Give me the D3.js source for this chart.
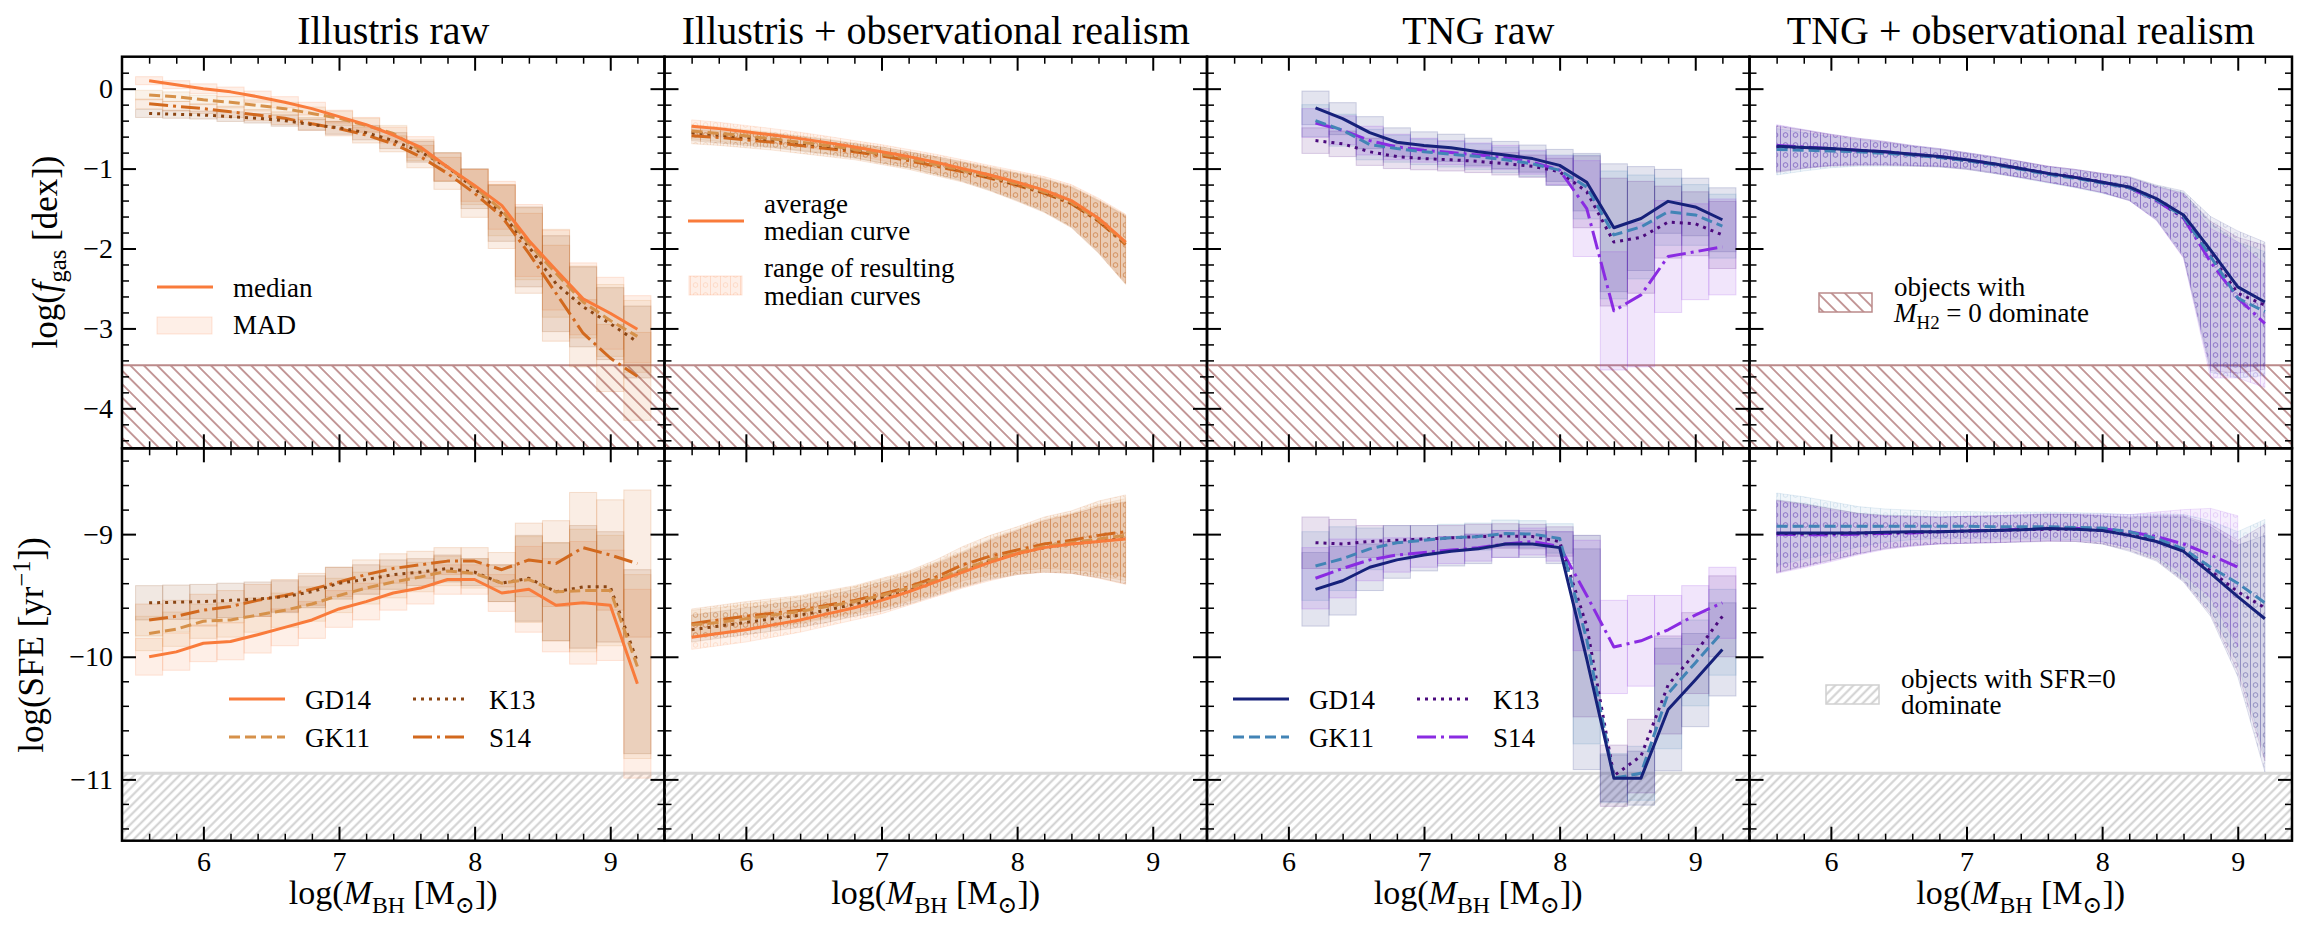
<!DOCTYPE html>
<html><head><meta charset="utf-8">
<script src="https://cdn.jsdelivr.net/npm/d3@7"></script>
<style>
body{margin:0;background:#fff}
svg text{font-family:"Liberation Serif","DejaVu Serif",serif !important;white-space:pre}
</style>
</head><body>
<svg id="chart" width="2308" height="934" font-family="Liberation Serif, DejaVu Serif, serif"></svg>
<script>
// ---------------- DATA ----------------
const models = ["GD14","GK11","K13","S14"];
const illColors = ["#f97b3b","#d6914a","#8b4513","#d2691e"];
const tngColors = ["#16217a","#4284b6","#4b0a7d","#8a2be2"];
const dashes = [null,"11,5","3,5","19,5,3,5"];
const titles = ["Illustris raw","Illustris + observational realism","TNG raw","TNG + observational realism"];

const xMajor = [6,7,8,9];
const fgasMajor = [-4,-3,-2,-1,0];
const sfeMajor = [-11,-10,-9];

const massIllRaw = [5.6,5.8,6.0,6.2,6.4,6.6,6.8,7.0,7.2,7.4,7.6,7.8,8.0,8.2,8.4,8.6,8.8,9.0,9.2];
const massIllObs = [5.6,5.8,6.0,6.2,6.4,6.6,6.8,7.0,7.2,7.4,7.6,7.8,8.0,8.2,8.4,8.6,8.8];
const massTngRaw = [6.2,6.4,6.6,6.8,7.0,7.2,7.4,7.6,7.8,8.0,8.2,8.4,8.6,8.8,9.0,9.2];
const massTngObs = [5.6,5.8,6.0,6.2,6.4,6.6,6.8,7.0,7.2,7.4,7.6,7.8,8.0,8.2,8.4,8.6,8.8,9.0,9.2];

// Illustris raw, log f_gas medians and MAD
const illRawFgasGD14 = [0.10,0.05,0.00,-0.04,-0.10,-0.17,-0.25,-0.35,-0.45,-0.58,-0.73,-0.98,-1.21,-1.46,-1.90,-2.27,-2.63,-2.81,-3.01];
const illRawFgasGK11 = [-0.08,-0.10,-0.14,-0.17,-0.21,-0.25,-0.31,-0.37,-0.46,-0.56,-0.77,-0.98,-1.23,-1.52,-1.94,-2.31,-2.67,-2.90,-3.10];
const illRawFgasK13  = [-0.31,-0.32,-0.33,-0.35,-0.37,-0.40,-0.45,-0.49,-0.55,-0.65,-0.79,-0.98,-1.25,-1.56,-1.98,-2.44,-2.73,-2.94,-3.17];
const illRawFgasS14  = [-0.19,-0.22,-0.25,-0.29,-0.33,-0.37,-0.44,-0.50,-0.58,-0.69,-0.85,-1.06,-1.31,-1.60,-2.06,-2.56,-3.06,-3.37,-3.60];
const illRawFgasMadGD14 = [0.05,0.05,0.06,0.06,0.07,0.07,0.08,0.08,0.09,0.10,0.13,0.17,0.20,0.30,0.45,0.50,0.45,0.45,0.42];
const illRawFgasMadGK11 = [0.06,0.06,0.06,0.07,0.07,0.08,0.08,0.09,0.09,0.10,0.13,0.18,0.22,0.32,0.45,0.55,0.45,0.45,0.45];
const illRawFgasMadK13  = [0.05,0.05,0.05,0.06,0.06,0.07,0.07,0.08,0.09,0.10,0.13,0.18,0.25,0.35,0.50,0.60,0.50,0.45,0.45];
const illRawFgasMadS14  = [0.06,0.06,0.06,0.07,0.07,0.08,0.08,0.09,0.10,0.10,0.14,0.20,0.30,0.40,0.50,0.60,0.42,0.42,0.55];

// Illustris raw, log SFE medians and MAD
const illRawSfeGD14 = [-10.00,-9.96,-9.89,-9.875,-9.82,-9.76,-9.70,-9.61,-9.55,-9.48,-9.44,-9.37,-9.37,-9.48,-9.45,-9.58,-9.56,-9.58,-10.22];
const illRawSfeGK11 = [-9.81,-9.775,-9.71,-9.70,-9.66,-9.62,-9.57,-9.50,-9.44,-9.39,-9.35,-9.30,-9.32,-9.40,-9.37,-9.47,-9.46,-9.46,-10.08];
const illRawSfeK13  = [-9.56,-9.555,-9.55,-9.54,-9.53,-9.51,-9.47,-9.40,-9.37,-9.33,-9.31,-9.28,-9.31,-9.40,-9.36,-9.47,-9.43,-9.43,-10.04];
const illRawSfeS14  = [-9.70,-9.67,-9.62,-9.59,-9.54,-9.50,-9.45,-9.39,-9.33,-9.28,-9.25,-9.22,-9.22,-9.29,-9.21,-9.24,-9.11,-9.17,-9.24];
const illRawSfeMadGD14 = [0.15,0.15,0.15,0.15,0.15,0.15,0.15,0.15,0.15,0.14,0.13,0.12,0.12,0.15,0.35,0.38,0.50,0.45,0.77];
const illRawSfeMadGK11 = [0.14,0.14,0.14,0.14,0.14,0.14,0.14,0.14,0.13,0.13,0.12,0.12,0.12,0.15,0.35,0.40,0.50,0.45,0.75];
const illRawSfeMadK13  = [0.14,0.14,0.14,0.14,0.14,0.13,0.13,0.13,0.12,0.12,0.11,0.11,0.11,0.15,0.35,0.40,0.50,0.45,0.75];
const illRawSfeMadS14  = [0.13,0.13,0.13,0.13,0.13,0.13,0.13,0.12,0.12,0.12,0.11,0.11,0.11,0.14,0.30,0.35,0.45,0.45,0.60];

// Illustris + observational realism
const illObsFgasGD14 = [-0.47,-0.50,-0.54,-0.58,-0.625,-0.675,-0.73,-0.79,-0.85,-0.92,-1.00,-1.08,-1.17,-1.27,-1.40,-1.62,-1.92];
const illObsFgasGK11 = [-0.53,-0.56,-0.59,-0.63,-0.67,-0.71,-0.76,-0.82,-0.88,-0.95,-1.02,-1.10,-1.19,-1.29,-1.42,-1.64,-1.93];
const illObsFgasK13  = [-0.55,-0.58,-0.61,-0.64,-0.68,-0.72,-0.77,-0.82,-0.88,-0.95,-1.03,-1.11,-1.20,-1.30,-1.43,-1.65,-1.94];
const illObsFgasS14  = [-0.59,-0.61,-0.64,-0.67,-0.71,-0.75,-0.79,-0.84,-0.90,-0.97,-1.04,-1.12,-1.21,-1.31,-1.44,-1.66,-1.95];
const illObsFgasUp   = [0.08,0.08,0.08,0.08,0.08,0.08,0.08,0.09,0.09,0.10,0.11,0.12,0.14,0.17,0.20,0.25,0.35];
const illObsFgasDown = [0.10,0.10,0.10,0.10,0.10,0.10,0.10,0.11,0.11,0.12,0.13,0.16,0.20,0.24,0.30,0.40,0.50];
const illObsSfeGD14 = [-9.84,-9.81,-9.78,-9.74,-9.70,-9.65,-9.60,-9.54,-9.47,-9.39,-9.31,-9.23,-9.16,-9.11,-9.08,-9.06,-9.04];
const illObsSfeGK11 = [-9.74,-9.72,-9.69,-9.66,-9.63,-9.59,-9.55,-9.50,-9.44,-9.37,-9.29,-9.21,-9.15,-9.10,-9.07,-9.04,-9.01];
const illObsSfeK13  = [-9.78,-9.75,-9.72,-9.69,-9.66,-9.62,-9.57,-9.52,-9.46,-9.38,-9.30,-9.22,-9.16,-9.11,-9.08,-9.055,-9.035];
const illObsSfeS14  = [-9.73,-9.70,-9.67,-9.645,-9.62,-9.58,-9.54,-9.49,-9.43,-9.35,-9.25,-9.18,-9.13,-9.08,-9.05,-9.01,-8.98];
const illObsSfeUp   = [0.12,0.12,0.12,0.12,0.12,0.12,0.12,0.13,0.13,0.14,0.15,0.17,0.19,0.22,0.24,0.28,0.30];
const illObsSfeDown = [0.10,0.10,0.10,0.10,0.10,0.10,0.10,0.11,0.11,0.12,0.13,0.15,0.17,0.20,0.24,0.30,0.37];

// TNG raw
const tngRawFgasGD14 = [-0.24,-0.375,-0.55,-0.67,-0.71,-0.74,-0.79,-0.83,-0.875,-0.96,-1.17,-1.74,-1.625,-1.41,-1.48,-1.64];
const tngRawFgasGK11 = [-0.40,-0.52,-0.70,-0.75,-0.79,-0.82,-0.85,-0.89,-0.94,-1.02,-1.23,-1.83,-1.73,-1.54,-1.58,-1.72];
const tngRawFgasK13  = [-0.65,-0.69,-0.79,-0.85,-0.875,-0.89,-0.91,-0.94,-0.97,-1.04,-1.29,-1.92,-1.86,-1.67,-1.69,-1.83];
const tngRawFgasS14  = [-0.43,-0.52,-0.65,-0.73,-0.77,-0.80,-0.83,-0.86,-0.92,-1.02,-1.50,-2.78,-2.58,-2.10,-2.04,-1.98];
const tngRawFgasMadGD14 = [0.21,0.20,0.20,0.18,0.17,0.17,0.17,0.17,0.17,0.20,0.36,0.80,0.65,0.40,0.36,0.40];
const tngRawFgasMadGK11 = [0.20,0.20,0.19,0.17,0.16,0.16,0.16,0.16,0.16,0.19,0.40,0.80,0.65,0.42,0.38,0.40];
const tngRawFgasMadK13  = [0.16,0.16,0.17,0.15,0.14,0.14,0.14,0.14,0.14,0.17,0.45,0.80,0.70,0.45,0.40,0.42];
const tngRawFgasMadS14  = [0.18,0.18,0.18,0.16,0.15,0.15,0.15,0.15,0.15,0.18,0.60,0.74,0.90,0.70,0.60,0.60];
const tngRawSfeGD14 = [-9.45,-9.38,-9.27,-9.21,-9.17,-9.14,-9.12,-9.08,-9.08,-9.11,-10.02,-10.99,-10.99,-10.43,-10.19,-9.94];
const tngRawSfeGK11 = [-9.26,-9.20,-9.12,-9.07,-9.05,-9.03,-9.02,-8.995,-9.00,-9.035,-9.86,-10.99,-10.95,-10.30,-10.05,-9.80];
const tngRawSfeK13  = [-9.07,-9.08,-9.06,-9.05,-9.04,-9.03,-9.02,-9.015,-9.02,-9.06,-9.75,-10.97,-10.81,-10.23,-9.97,-9.67];
const tngRawSfeS14  = [-9.36,-9.28,-9.21,-9.17,-9.15,-9.13,-9.11,-9.08,-9.06,-9.10,-9.50,-9.92,-9.87,-9.78,-9.66,-9.56];
const tngRawSfeMadGD14 = [0.30,0.28,0.19,0.15,0.13,0.12,0.12,0.11,0.11,0.13,0.90,0.19,0.22,0.50,0.38,0.38];
const tngRawSfeMadGK11 = [0.28,0.26,0.17,0.14,0.12,0.11,0.11,0.11,0.11,0.12,0.85,0.20,0.22,0.45,0.35,0.35];
const tngRawSfeMadK13  = [0.21,0.20,0.13,0.12,0.11,0.10,0.10,0.10,0.10,0.12,0.74,0.25,0.30,0.40,0.33,0.33];
const tngRawSfeMadS14  = [0.25,0.24,0.17,0.14,0.12,0.11,0.11,0.11,0.11,0.12,0.45,0.38,0.37,0.28,0.24,0.29];

// TNG + observational realism
const tngObsFgasGD14 = [-0.72,-0.735,-0.75,-0.77,-0.79,-0.82,-0.85,-0.89,-0.94,-1.00,-1.06,-1.11,-1.17,-1.23,-1.375,-1.58,-2.02,-2.48,-2.67];
const tngObsFgasGK11 = [-0.76,-0.77,-0.78,-0.79,-0.81,-0.83,-0.86,-0.90,-0.95,-1.01,-1.07,-1.12,-1.18,-1.24,-1.39,-1.60,-2.10,-2.62,-2.79];
const tngObsFgasK13  = [-0.73,-0.74,-0.76,-0.78,-0.80,-0.83,-0.86,-0.90,-0.95,-1.00,-1.06,-1.11,-1.17,-1.24,-1.39,-1.61,-2.08,-2.56,-2.71];
const tngObsFgasS14  = [-0.71,-0.73,-0.75,-0.77,-0.79,-0.82,-0.85,-0.89,-0.94,-1.00,-1.06,-1.11,-1.17,-1.24,-1.40,-1.62,-2.17,-2.62,-2.94];
const tngObsFgasUp   = [0.26,0.22,0.18,0.15,0.13,0.11,0.10,0.09,0.09,0.09,0.09,0.10,0.11,0.13,0.17,0.30,0.42,0.70,0.75];
const tngObsFgasDown = [0.32,0.26,0.21,0.18,0.16,0.14,0.12,0.11,0.11,0.11,0.11,0.12,0.13,0.16,0.25,0.50,1.45,1.00,0.80];
const tngObsSfeGD14 = [-8.99,-8.99,-8.99,-8.99,-8.985,-8.98,-8.98,-8.975,-8.97,-8.965,-8.955,-8.96,-8.97,-9.01,-9.06,-9.14,-9.32,-9.51,-9.69];
const tngObsSfeGK11 = [-8.935,-8.935,-8.935,-8.935,-8.935,-8.935,-8.935,-8.935,-8.94,-8.94,-8.94,-8.945,-8.95,-8.98,-9.035,-9.12,-9.27,-9.40,-9.56];
const tngObsSfeK13  = [-8.995,-8.995,-8.995,-8.99,-8.99,-8.985,-8.98,-8.975,-8.97,-8.965,-8.96,-8.96,-8.97,-9.00,-9.05,-9.13,-9.30,-9.47,-9.60];
const tngObsSfeS14  = [-9.00,-9.005,-9.005,-9.00,-8.995,-8.99,-8.98,-8.975,-8.97,-8.96,-8.955,-8.955,-8.955,-8.98,-9.02,-9.08,-9.17,-9.27,null];
const tngObsSfeUp   = [0.27,0.24,0.20,0.16,0.14,0.13,0.12,0.12,0.12,0.12,0.12,0.12,0.12,0.14,0.20,0.28,0.38,0.42,0.68];
const tngObsSfeDown = [0.32,0.27,0.22,0.17,0.13,0.11,0.10,0.10,0.10,0.10,0.10,0.10,0.11,0.13,0.16,0.25,0.35,0.65,1.25];

// hatched "dominated by zeros" regions
const fgasZeroLimit = -3.46;
const sfeZeroLimit = -10.95;

// ---------------- LAYOUT ----------------
const FONT = "Liberation Serif, DejaVu Serif, serif";
const panelLeft = 122, panelW = 542.5;
const xDomain = [5.4, 9.4];
const rowsGeom = [
  {y0:56.7, y1:448.3, domain:[-4.5,0.4], major:fgasMajor},
  {y0:448.3, y1:840.7, domain:[-11.5,-8.3], major:sfeMajor}
];
const r1 = v => Math.round(v*10)/10;
const xMinor = d3.range(5.6, 9.3, 0.2).map(r1).filter(v => !xMajor.includes(v));
rowsGeom[0].minor = d3.range(-4.4, 0.3, 0.2).map(r1).filter(v => !fgasMajor.includes(v));
rowsGeom[1].minor = d3.range(-11.4, -8.35, 0.2).map(r1).filter(v => !sfeMajor.includes(v));

const panels = [
  {xs:massIllRaw, colors:illColors, kind:"box", bandOp:0.1,
   rows:[{med:[illRawFgasGD14,illRawFgasGK11,illRawFgasK13,illRawFgasS14], err:[illRawFgasMadGD14,illRawFgasMadGK11,illRawFgasMadK13,illRawFgasMadS14]},
         {med:[illRawSfeGD14,illRawSfeGK11,illRawSfeK13,illRawSfeS14], err:[illRawSfeMadGD14,illRawSfeMadGK11,illRawSfeMadK13,illRawSfeMadS14]}]},
  {xs:massIllObs, colors:illColors, kind:"band", bandOp:0.1,
   rows:[{med:[illObsFgasGD14,illObsFgasGK11,illObsFgasK13,illObsFgasS14], up:illObsFgasUp, down:illObsFgasDown},
         {med:[illObsSfeGD14,illObsSfeGK11,illObsSfeK13,illObsSfeS14], up:illObsSfeUp, down:illObsSfeDown}]},
  {xs:massTngRaw, colors:tngColors, kind:"box", bandOp:0.1,
   rows:[{med:[tngRawFgasGD14,tngRawFgasGK11,tngRawFgasK13,tngRawFgasS14], err:[tngRawFgasMadGD14,tngRawFgasMadGK11,tngRawFgasMadK13,tngRawFgasMadS14]},
         {med:[tngRawSfeGD14,tngRawSfeGK11,tngRawSfeK13,tngRawSfeS14], err:[tngRawSfeMadGD14,tngRawSfeMadGK11,tngRawSfeMadK13,tngRawSfeMadS14]}]},
  {xs:massTngObs, colors:tngColors, kind:"band", bandOp:0.075,
   rows:[{med:[tngObsFgasGD14,tngObsFgasGK11,tngObsFgasK13,tngObsFgasS14], up:tngObsFgasUp, down:tngObsFgasDown},
         {med:[tngObsSfeGD14,tngObsSfeGK11,tngObsSfeK13,tngObsSfeS14], up:tngObsSfeUp, down:tngObsSfeDown}]}
];

// ---------------- DRAW ----------------
const svg = d3.select("#chart");
const defs = svg.append("defs");

function hatch(id, color, angle, spacing, width){
  const p = defs.append("pattern").attr("id",id).attr("patternUnits","userSpaceOnUse")
    .attr("width",spacing).attr("height",spacing).attr("patternTransform",`rotate(${angle})`);
  p.append("line").attr("x1",spacing/2).attr("x2",spacing/2).attr("y1",-1).attr("y2",spacing+1)
    .attr("stroke",color).attr("stroke-width",width);
}
hatch("hatchH2","#bb8a8a",-45,9.5,1.7);
hatch("hatchSFR","#d0d0d0",45,6.4,2);

function rangePattern(id,color,op){
  const p = defs.append("pattern").attr("id",id).attr("patternUnits","userSpaceOnUse").attr("width",10).attr("height",10);
  p.append("line").attr("x1",0.5).attr("x2",0.5).attr("y1",0).attr("y2",10)
    .attr("stroke",color).attr("stroke-width",1).attr("stroke-opacity",op);
  p.append("circle").attr("cx",5.5).attr("cy",5).attr("r",2.3).attr("fill","none")
    .attr("stroke",color).attr("stroke-width",0.9).attr("stroke-opacity",op);
}
illColors.forEach((c,i)=>rangePattern("rp-ill-"+i,c,0.2));
tngColors.forEach((c,i)=>rangePattern("rp-tng-"+i,c,0.18));

function txt(parent, x, y, s, size, anchor){
  return parent.append("text").attr("x",x).attr("y",y).attr("font-size",size)
    .attr("font-family",FONT).attr("text-anchor",anchor||"start").attr("fill","#000").text(s);
}
function rich(parent, segs, size, attrs){
  const t = parent.append("text").attr("font-size",size).attr("font-family",FONT).attr("fill","#000");
  Object.entries(attrs||{}).forEach(([k,v])=>t.attr(k,v));
  let shift = 0;
  segs.forEach(s=>{
    const target = s.sub ? size*0.25 : (s.sup ? -size*0.38 : 0);
    const ts = t.append("tspan").text(s.t);
    if (target !== shift) ts.attr("dy", target - shift);
    shift = target;
    if (s.sub || s.sup) ts.attr("font-size", size*0.7);
    if (s.it) ts.attr("font-style","italic");
  });
  return t;
}
const fmt = d => d < 0 ? "\u2212" + Math.abs(d) : String(d);

const hatchCfg = [
  {lo:-4.5, hi:fgasZeroLimit, pattern:"hatchH2", edge:"#bb8a8a", edgeW:2},
  {lo:-11.5, hi:sfeZeroLimit, pattern:"hatchSFR", edge:"#d8d8d8", edgeW:3}
];

panels.forEach((P, pi) => {
  const left = panelLeft + pi*panelW;
  const x = d3.scaleLinear().domain(xDomain).range([left, left+panelW]);
  const pat = P.colors === illColors ? "rp-ill-" : "rp-tng-";
  rowsGeom.forEach((R, ri) => {
    const y = d3.scaleLinear().domain(R.domain).range([R.y1, R.y0]);
    const clipId = `clip-${pi}-${ri}`;
    defs.append("clipPath").attr("id",clipId).append("rect")
      .attr("x",left).attr("y",R.y0).attr("width",panelW).attr("height",R.y1-R.y0);
    const g = svg.append("g");
    const data = g.append("g").attr("clip-path",`url(#${clipId})`);
    const hz = hatchCfg[ri];
    data.append("rect").attr("x",left).attr("width",panelW)
      .attr("y",y(hz.hi)).attr("height",y(hz.lo)-y(hz.hi)).attr("fill",`url(#${hz.pattern})`);
    data.append("line").attr("x1",left).attr("x2",left+panelW).attr("y1",y(hz.hi)).attr("y2",y(hz.hi))
      .attr("stroke",hz.edge).attr("stroke-width",hz.edgeW);

    const S = P.rows[ri];
    const pts = k => P.xs.map((xv,i)=>({x:xv, m:S.med[k][i], i})).filter(d=>d.m!==null && d.m!==undefined);

    if (P.kind === "box") {
      models.forEach((mname,k)=>{
        data.append("g").selectAll("rect").data(pts(k)).join("rect")
          .attr("x", d=>x(d.x-0.1)).attr("width", d=>x(d.x+0.1)-x(d.x-0.1))
          .attr("y", d=>y(d.m+S.err[k][d.i])).attr("height", d=>y(d.m-S.err[k][d.i])-y(d.m+S.err[k][d.i]))
          .attr("fill",P.colors[k]).attr("fill-opacity",0.12)
          .attr("stroke",P.colors[k]).attr("stroke-opacity",0.18).attr("stroke-width",1);
      });
    } else {
      models.forEach((mname,k)=>{
        const area = d3.area().x(d=>x(d.x)).y0(d=>y(d.m-S.down[d.i])).y1(d=>y(d.m+S.up[d.i]));
        const dd = pts(k);
        data.append("path").attr("d",area(dd)).attr("fill",P.colors[k]).attr("fill-opacity",P.bandOp)
          .attr("stroke",P.colors[k]).attr("stroke-opacity",0.12).attr("stroke-width",1);
        data.append("path").attr("d",area(dd)).attr("fill",`url(#${pat}${k})`);
      });
    }
    const line = d3.line().x(d=>x(d.x)).y(d=>y(d.m));
    [3,2,1,0].forEach(k=>{
      data.append("path").attr("d",line(pts(k))).attr("fill","none")
        .attr("stroke",P.colors[k]).attr("stroke-width",3)
        .attr("stroke-dasharray",dashes[k]).attr("stroke-linejoin","round");
    });

    // axes (inward ticks on all sides)
    const style = sel => {
      sel.select(".domain").remove();
      sel.attr("font-family",FONT).attr("font-size",28);
      sel.selectAll("line").attr("stroke","#000");
      sel.selectAll("text").attr("font-size",28).attr("font-family",FONT).attr("fill","#000");
    };
    const showX = ri === 1, showY = pi === 0;
    g.append("g").attr("transform",`translate(0,${R.y1})`)
      .call(d3.axisBottom(x).tickValues(xMajor).tickSize(-14).tickPadding(10).tickFormat(showX ? d3.format("d") : ()=>""))
      .call(style).selectAll("line").attr("stroke-width",2);
    g.append("g").attr("transform",`translate(0,${R.y1})`)
      .call(d3.axisBottom(x).tickValues(xMinor).tickSize(-7).tickFormat(()=>""))
      .call(style).selectAll("line").attr("stroke-width",1.5);
    g.append("g").attr("transform",`translate(0,${R.y0})`)
      .call(d3.axisTop(x).tickValues(xMajor).tickSize(-14).tickFormat(()=>""))
      .call(style).selectAll("line").attr("stroke-width",2);
    g.append("g").attr("transform",`translate(0,${R.y0})`)
      .call(d3.axisTop(x).tickValues(xMinor).tickSize(-7).tickFormat(()=>""))
      .call(style).selectAll("line").attr("stroke-width",1.5);
    g.append("g").attr("transform",`translate(${left},0)`)
      .call(d3.axisLeft(y).tickValues(R.major).tickSize(-14).tickPadding(9).tickFormat(showY ? fmt : ()=>""))
      .call(style).selectAll("line").attr("stroke-width",2);
    g.append("g").attr("transform",`translate(${left},0)`)
      .call(d3.axisLeft(y).tickValues(R.minor).tickSize(-7).tickFormat(()=>""))
      .call(style).selectAll("line").attr("stroke-width",1.5);
    g.append("g").attr("transform",`translate(${left+panelW},0)`)
      .call(d3.axisRight(y).tickValues(R.major).tickSize(-14).tickFormat(()=>""))
      .call(style).selectAll("line").attr("stroke-width",2);
    g.append("g").attr("transform",`translate(${left+panelW},0)`)
      .call(d3.axisRight(y).tickValues(R.minor).tickSize(-7).tickFormat(()=>""))
      .call(style).selectAll("line").attr("stroke-width",1.5);
    g.append("rect").attr("x",left).attr("y",R.y0).attr("width",panelW).attr("height",R.y1-R.y0)
      .attr("fill","none").attr("stroke","#000").attr("stroke-width",2.5);

    if (ri === 1) {
      rich(svg, [{t:"log("},{t:"M",it:true},{t:"BH",sub:true},{t:" [M"},{t:"\u2299",sub:true},{t:"])"}], 34,
        {x:left+panelW/2, y:904, "text-anchor":"middle"});
    }
  });
  txt(svg, left+panelW/2, 44, titles[pi], 40, "middle");
});

// y labels
rich(svg, [{t:"log("},{t:"f",it:true},{t:"gas",sub:true},{t:" [dex])"}], 35,
  {transform:"translate(57,252) rotate(-90)", "text-anchor":"middle"});
rich(svg, [{t:"log(SFE [yr"},{t:"\u22121",sup:true},{t:"])"}], 35,
  {transform:"translate(43,645) rotate(-90)", "text-anchor":"middle"});

// ---------------- LEGENDS ----------------
const LF = 27;
const leg = svg.append("g");
// panel 1 top
leg.append("line").attr("x1",157).attr("x2",213).attr("y1",287).attr("y2",287).attr("stroke",illColors[0]).attr("stroke-width",3);
txt(leg, 233, 297, "median", LF);
leg.append("rect").attr("x",157).attr("y",317).attr("width",55).attr("height",17)
  .attr("fill",illColors[0]).attr("fill-opacity",0.12).attr("stroke",illColors[0]).attr("stroke-opacity",0.2);
txt(leg, 233, 334, "MAD", LF);

// model legends (panel 1 bottom and panel 3 bottom)
function modelLegend(x0, colors){
  const pos = [[0,0],[0,1],[1,0],[1,1]];
  models.forEach((m,k)=>{
    const [c,r] = pos[k];
    const lx = x0 + c*184, ly = 699 + r*38;
    leg.append("line").attr("x1",lx).attr("x2",lx+56).attr("y1",ly).attr("y2",ly)
      .attr("stroke",colors[k]).attr("stroke-width",3).attr("stroke-dasharray",dashes[k]);
    txt(leg, lx+76, ly+10, m, LF);
  });
}
modelLegend(229, illColors);
modelLegend(1233, tngColors);

// panel 2 top
leg.append("line").attr("x1",688).attr("x2",744).attr("y1",221).attr("y2",221).attr("stroke",illColors[0]).attr("stroke-width",3);
txt(leg, 764, 213, "average", LF);
txt(leg, 764, 240, "median curve", LF);
leg.append("rect").attr("x",689).attr("y",276).attr("width",53).attr("height",19)
  .attr("fill",illColors[0]).attr("fill-opacity",0.12).attr("stroke",illColors[0]).attr("stroke-opacity",0.2);
leg.append("rect").attr("x",689).attr("y",276).attr("width",53).attr("height",19).attr("fill","url(#rp-ill-0)");
txt(leg, 764, 277, "range of resulting", LF);
txt(leg, 764, 305, "median curves", LF);

// panel 4 top
leg.append("rect").attr("x",1819).attr("y",293).attr("width",53).attr("height",19)
  .attr("fill","url(#hatchH2)").attr("stroke","#bb8a8a").attr("stroke-width",1.5);
txt(leg, 1894, 296, "objects with", LF);
rich(leg, [{t:"M",it:true},{t:"H2",sub:true},{t:" = 0 dominate"}], LF, {x:1894, y:322});

// panel 4 bottom
leg.append("rect").attr("x",1826).attr("y",685).attr("width",53).attr("height",19)
  .attr("fill","url(#hatchSFR)").attr("stroke","#d0d0d0").attr("stroke-width",1.5);
txt(leg, 1901, 688, "objects with SFR=0", LF);
txt(leg, 1901, 714, "dominate", LF);
</script>
</body></html>
